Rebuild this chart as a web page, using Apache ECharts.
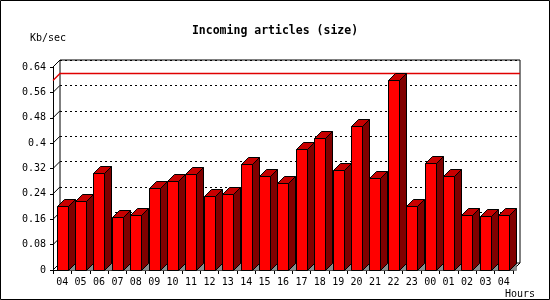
<!DOCTYPE html>
<html>
<head>
<meta charset="utf-8">
<script src="https://cdn.jsdelivr.net/npm/echarts@6/dist/echarts.min.js"></script>
<style>
  html, body { margin: 0; padding: 0; background: #fff; }
  #main { width: 550px; height: 300px; }
</style>
</head>
<body>
<div id="main"></div>
<script>
// hours along the x axis
var hours = ['04', '05', '06', '07', '08', '09', '10', '11', '12', '13', '14', '15', '16',
             '17', '18', '19', '20', '21', '22', '23', '00', '01', '02', '03', '04'];
// incoming size, Kb/sec
var kbPerSec = [0.201, 0.216, 0.307, 0.167, 0.173, 0.258, 0.280, 0.302, 0.233, 0.241, 0.334, 0.296, 0.273,
                0.383, 0.415, 0.315, 0.453, 0.290, 0.598, 0.201, 0.336, 0.296, 0.173, 0.170, 0.173];
var yTicks = [0, 0.08, 0.16, 0.24, 0.32, 0.4, 0.48, 0.56, 0.64];

var D = 7; // 3d depth in px
var mono = 'DejaVu Sans Mono';
var maxVal = Math.max.apply(null, kbPerSec);

var myChart = echarts.init(document.getElementById('main'));

var option = {
    backgroundColor: '#fff',
    animation: false,
    title: {
        text: 'Incoming articles (size)',
        left: 'center',
        top: 20,
        textStyle: { fontFamily: mono, fontSize: 11.5, fontWeight: 'bold', color: '#000' }
    },
    graphic: [
        { type: 'rect', shape: { x: 0.5, y: 0.5, width: 549, height: 299 },
          style: { fill: null, stroke: '#000', lineWidth: 1 } },
        { type: 'text', left: 30, top: 33,
          style: { text: 'Kb/sec', fontFamily: mono, fontSize: 10, fill: '#000' } },
        { type: 'text', left: 505, top: 289,
          style: { text: 'Hours', fontFamily: mono, fontSize: 10, fill: '#000' } }
    ],
    grid: [
        // front plane
        { left: 53, right: 37, top: 67, bottom: 30 },
        // back wall
        { left: 60, right: 30, top: 60, bottom: 37, show: true, borderColor: '#000', borderWidth: 1,
          backgroundColor: 'transparent' }
    ],
    xAxis: [
        {
            type: 'category', gridIndex: 0, data: hours,
            axisLine: { lineStyle: { color: '#000', width: 1 } },
            axisTick: { show: true, interval: 0, length: 4, lineStyle: { color: '#000' } },
            axisLabel: { interval: 0, margin: 7, color: '#000', fontFamily: mono, fontSize: 10 }
        },
        {
            type: 'category', gridIndex: 1, data: hours, show: false
        }
    ],
    yAxis: [
        {
            type: 'value', gridIndex: 0, min: 0, max: 0.64, interval: 0.08,
            axisLine: { show: true, lineStyle: { color: '#000', width: 1 } },
            axisTick: { show: true, length: 3, lineStyle: { color: '#000' } },
            axisLabel: { margin: 7, color: '#000', fontFamily: mono, fontSize: 10 },
            splitLine: { show: false }
        },
        {
            type: 'value', gridIndex: 1, min: 0, max: 0.64, interval: 0.08,
            axisLine: { show: false }, axisTick: { show: false }, axisLabel: { show: false },
            splitLine: { show: true, lineStyle: { color: '#000', type: [2, 3], width: 1 } }
        }
    ],
    series: [
        {
            // diagonal tick joins from front axis to the back wall + floor edge
            type: 'custom', xAxisIndex: 0, yAxisIndex: 0, silent: true,
            data: yTicks.map(function (v) { return [0, v]; }),
            renderItem: function (params, api) {
                var cs = params.coordSys;
                var y = api.coord([0, api.value(1)])[1];
                var x0 = cs.x;
                var children = [{
                    type: 'line',
                    shape: { x1: x0, y1: y, x2: x0 + D, y2: y - D },
                    style: { stroke: '#000', lineWidth: 1 }
                }];
                if (params.dataIndex === 0) {
                    children.push({
                        type: 'line',
                        shape: { x1: cs.x + cs.width, y1: y, x2: cs.x + cs.width + D, y2: y - D },
                        style: { stroke: '#000', lineWidth: 1 }
                    });
                }
                return { type: 'group', children: children };
            },
            z: 3
        },
        {
            // max line on the back wall
            type: 'custom', xAxisIndex: 0, yAxisIndex: 0, silent: true,
            data: [[0, maxVal]],
            renderItem: function (params, api) {
                var cs = params.coordSys;
                var y = Math.round(api.coord([0, api.value(1)])[1]) + 0.5;
                return {
                    type: 'polyline',
                    shape: { points: [[cs.x, y], [cs.x + D, y - D], [cs.x + cs.width + D, y - D]] },
                    style: { stroke: '#e00000', lineWidth: 1.3, fill: null }
                };
            },
            z: 4
        },
        {
            type: 'custom', xAxisIndex: 0, yAxisIndex: 0,
            data: kbPerSec.map(function (v, i) { return [i, v]; }),
            renderItem: function (params, api) {
                var top = api.coord([api.value(0), api.value(1)]);
                var base = api.coord([api.value(0), 0])[1];
                var bw = api.size([1, 0])[0] * 0.6;
                var xl = Math.round(top[0] - bw / 2) + 0.5;
                var xr = xl + Math.round(bw);
                var yt = Math.round(top[1]) + 0.5;
                var yb = Math.round(base) + 0.5;
                var st = { stroke: '#000', lineWidth: 1 };
                return {
                    type: 'group',
                    children: [
                        { type: 'polygon', shape: { points: [[xr, yb], [xr + D, yb - D], [xr + D, yb]] },
                          style: { fill: '#8c8c8c', stroke: '#555', lineWidth: 0.5 } },
                        { type: 'polygon', shape: { points: [[xr, yb], [xr + D, yb - D], [xr + D, yt - D], [xr, yt]] },
                          style: Object.assign({ fill: '#800000' }, st) },
                        { type: 'polygon', shape: { points: [[xl, yt], [xl + D, yt - D], [xr + D, yt - D], [xr, yt]] },
                          style: Object.assign({ fill: '#c80000' }, st) },
                        { type: 'rect', shape: { x: xl, y: yt, width: xr - xl, height: yb - yt },
                          style: Object.assign({ fill: '#ff0000' }, st) }
                    ]
                };
            },
            z: 5
        }
    ]
};

myChart.setOption(option);
</script>
</body>
</html>
